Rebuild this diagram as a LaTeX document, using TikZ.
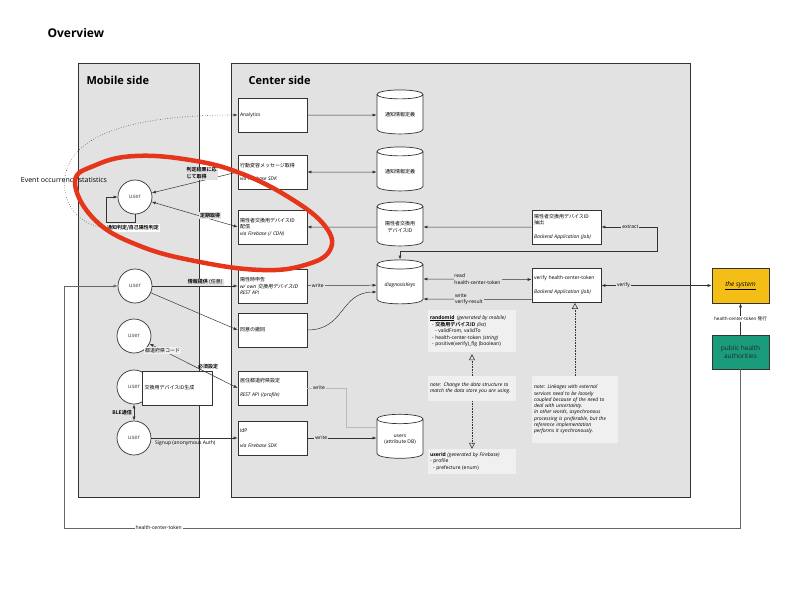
\documentclass[tikz,border=0pt]{standalone}
\usepackage{fontspec}
\setmainfont{Open Sans}
\newfontfamily\jp{Noto Sans CJK JP}[AutoFakeSlant=0.2,BoldFont={Noto Sans CJK JP Bold}]
\newcommand\J[1]{{\jp #1}}
\usetikzlibrary{arrows.meta,shapes.geometric}
\definecolor{panel}{HTML}{E2E2E2}
\definecolor{notebg}{HTML}{F0F0F0}
\definecolor{edge}{HTML}{333333}
\definecolor{sysyel}{HTML}{F5BE16}
\definecolor{phagrn}{HTML}{1A9B7C}
\definecolor{redmark}{HTML}{E5361C}

\begin{document}
\begin{tikzpicture}[x=1pt,y=-1pt,
  >={Latex[length=4pt,width=3pt]},
  font=\fontsize{5}{6.3}\selectfont,
  box/.style={draw=edge,fill=white,line width=0.7pt,minimum width=69pt,minimum height=34pt,text width=65pt,align=left,inner xsep=2pt},
  db/.style={cylinder,shape border rotate=90,aspect=0.28,draw=edge,fill=white,line width=0.7pt,minimum width=46pt,minimum height=44pt,align=center,inner sep=1pt},
  usr/.style={circle,draw=edge,fill=white,line width=0.7pt,minimum size=34pt,inner sep=0pt,font=\fontsize{6}{7}\selectfont,text=black!70},
  note/.style={fill=notebg,text width=84pt,align=left,inner sep=2pt},
  lbl/.style={fill=panel,inner sep=1pt,align=left},
  bl/.style={font=\fontsize{5}{6.3}\selectfont\bfseries},
  arr/.style={->,draw=edge,line width=0.5pt},
  uml/.style={-{Triangle[open,length=6pt,width=6pt]},densely dotted,draw=edge,line width=0.6pt},
  head/.style={font=\fontsize{11}{13}\selectfont\bfseries,anchor=west}]
  \useasboundingbox (0,0) rectangle (800,600);

  % panels
  \draw[fill=panel,draw=edge,line width=0.9pt] (78,63) rectangle (199,497);
  \draw[fill=panel,draw=edge,line width=0.9pt] (231,63) rectangle (690,497);
  \node[head,font=\fontsize{12}{14}\selectfont\bfseries] (ttl) at (44,33) {Overview};
  \node[head] (tmob) at (83,80) {Mobile side};
  \node[head] (tcen) at (245,80) {Center side};

  % center side
  \node[box] (ana)  at (272.5,115) {Analytics};
  \node[box] (msg)  at (272.5,172) {\J{行動変容メッセージ取得}\\[7pt]\textit{via Firebase SDK}};
  \node[box] (dist) at (272.5,227) {\J{陽性者交換用デバイスID}\\\J{配信}\\\textit{via Firebase (/ CDN)}};
  \node[box] (pos)  at (272.5,286) {\J{陽性時申告}\\\textit{w/ own \J{交換用デバイスID}}\\\textit{REST API}};
  \node[box] (wd)   at (272.5,330) {\J{同意の撤回}};
  \node[box] (pref) at (272.5,388) {\J{居住都道府県設定}\\[8pt]\textit{REST API (/profile)}};
  \node[box] (idp)  at (272.5,438) {IdP\\[8pt]\textit{via Firebase SDK}};
  \node[db] (db1) at (400,115) {\J{通知情報定義}};
  \node[db] (db2) at (400,172) {\J{通知情報定義}};
  \node[db] (db3) at (400,227) {\J{陽性者交換用}\\\J{デバイスID}};
  \node[db] (dk)  at (400,285) {\textit{diagnosisKeys}};
  \node[db] (usrdb) at (400,439.5) {users\\(attribute DB)};
  \node[box] (ext) at (566.5,227) {\J{陽性者交換用デバイスID}\\\J{抽出}\\[8pt]\textit{Backend Application (Job)}};
  \node[box] (vf)  at (566.5,285.5) {verify health-center-token\\[8pt]\textit{Backend Application (Job)}};

  % notes
  \node[note,minimum height=42pt] (rid) at (472,331) {\underline{\textbf{randomId}}\enspace\textit{(generated by mobile)}\\
    \hspace*{2pt}- \textbf{\J{交換用デバイスID}} \textit{(list)}\\
    \hspace*{5pt}- validFrom, validTo\\
    \hspace*{2pt}- health-center-token \textit{(string)}\\
    \hspace*{2pt}- positive(verify)\_flg (boolean)};
  \node[note,minimum height=25pt,font=\fontsize{5}{6.3}\selectfont\itshape] (n1) at (472,388.5)
    {note: Change the data structure to\\match the data store you are using.};
  \node[note,minimum height=25pt] (uid) at (472,461.5) {\textbf{userId} \textit{(generated by Firebase)}\\- profile\\\hspace*{3pt}- prefecture (enum)};
  \node[note,text width=82pt,minimum height=67pt,font=\fontsize{5}{6.3}\selectfont\itshape] (n2) at (575,409.5)
    {note: Linkages with external\\services need to be loosely\\coupled because of the need to\\deal with uncertainty.\\In other words, asynchronous\\processing is preferable, but the\\reference implementation\\performs it synchronously.};

  % outside
  \node[draw=edge,fill=sysyel,line width=0.7pt,minimum width=57pt,minimum height=35pt,font=\fontsize{6.5}{8}\selectfont] (sys) at (740.5,285.5) {\underline{\textit{the system}}};
  \node[draw=edge,fill=phagrn,line width=0.7pt,minimum width=57pt,minimum height=34pt,align=center,text=black!85,font=\fontsize{6.5}{8}\selectfont] (pha) at (740.5,352) {public health\\authorities};

  % mobile side
  \node[usr] (u1) at (135,197) {user};
  \node[usr] (u2) at (135,286) {user};
  \node[usr] (u3) at (134,336) {user};
  \node[usr] (u4) at (134,387) {user};
  \node[box,minimum width=70pt] (gen) at (177,388) {\J{交換用デバイスID生成}};
  \node[usr] (u5) at (134,438) {user};

  % connectors, center side
  \draw[arr] (ana) -- (db1);
  \draw[arr,<->] (msg) -- (db2);
  \draw[arr] (db3) -- (dist);
  \draw[arr] (ext) -- (db3);
  \draw[arr] (pos) -- node[lbl,pos=0.15]{write} (dk);
  \draw[arr] (wd.east) .. controls (345,330) and (340,292) .. ([yshift=-7pt]dk.west);
  \coordinate (xc) at (657,251);
  \draw[arr,<->] (dk.north) |- (xc) |- node[lbl,pos=0.74]{extract} (ext.east);
  \draw[arr,<->] ([yshift=6pt]dk.east) -- node[lbl]{read\\health-center-token} ([yshift=6pt]vf.west);
  \draw[arr] ([yshift=-14pt]vf.west) -- node[lbl,pos=0.58]{write\\verify-result} ([yshift=-14pt]dk.east);
  \draw[arr,<->] (vf) -- node[lbl,pos=0.2]{verify} (sys);
  \draw[arr] (pha) -- node[lbl,fill=white,font=\fontsize{4.6}{5.5}\selectfont]{health-center-token \J{発行}} (sys);
  \coordinate (pw) at (346,388);
  \draw[gray!55,line width=0.6pt] (pref.east) -- node[lbl,pos=0.3,text=black]{write} (pw) |- ([yshift=12pt]usrdb.west);
  \draw[arr] (idp.east) -- node[lbl,pos=0.2]{write} (usrdb.west |- idp.east);
  \draw[uml,shorten >=2pt] (n1) -- (rid);
  \draw[uml] (n1) -- (uid);
  \draw[uml] (n2.north) -- (n2.north |- vf.south);

  % connectors, mobile side
  \coordinate (lp) at (106,222);
  \draw[arr] (u1.south) |- (lp) |- (u1.west);
  \node[lbl,fill=white,bl] (lpl) at (133,228) {\J{通知判定/自己陽性判定}};
  \draw[arr,dotted,line width=0.6pt] (lpl.west) .. controls (72,224) and (60,196) .. (66,172) .. controls (76,132) and (140,115) .. (ana.west);
  \node[font=\fontsize{7}{8}\selectfont] (evt) at (64,180) {Event occurrence statistics};
  \draw[arr] (msg.west) -- node[lbl,bl,pos=0.42,above=1pt]{\J{判定結果に応}\\\J{じて取得}} (u1);
  \draw[arr,<->] (u1) -- node[lbl,bl,pos=0.68,above=0pt]{\J{定期取得}} (dist.west);
  \draw[arr] (u2) -- node[lbl,pos=0.62,above=0pt]{\textbf{\J{情報提供}} \J{(任意)}} (pos);
  \draw[arr] (u2) -- (wd.west);
  \draw[arr,<->] (u3) -- node[lbl,pos=0.15,fill=notebg]{\J{都道府県コード}} node[bl,pos=0.62,above=1pt,xshift=4pt,inner sep=1pt]{\J{必須設定}} (pref.west);
  \draw[arr,<->] (u4) -- node[bl,left=1pt,inner sep=1pt]{\J{BLE通信}} (u5);
  \draw[arr] (u5) -- node[pos=0.03,anchor=north west,yshift=-1pt,inner sep=1pt]{Signup (anonymous Auth)} (idp);
  \coordinate (hb1) at (740.5,528);
  \coordinate (hb2) at (64,528);
  \draw[arr,draw=black!60] (pha.south) -- (hb1) -- node[lbl,fill=white,pos=0.86]{health-center-token} (hb2) |- (u2.west);

  % hand-drawn mark
  \draw[redmark,line width=4.5pt] plot[smooth cycle,tension=0.7] coordinates {(75,182) (96,165) (135,156) (190,160) (240,173) (290,198) (325,226) (330,250) (305,265) (262,270) (200,262) (140,246) (95,220)};
\end{tikzpicture}
\end{document}
